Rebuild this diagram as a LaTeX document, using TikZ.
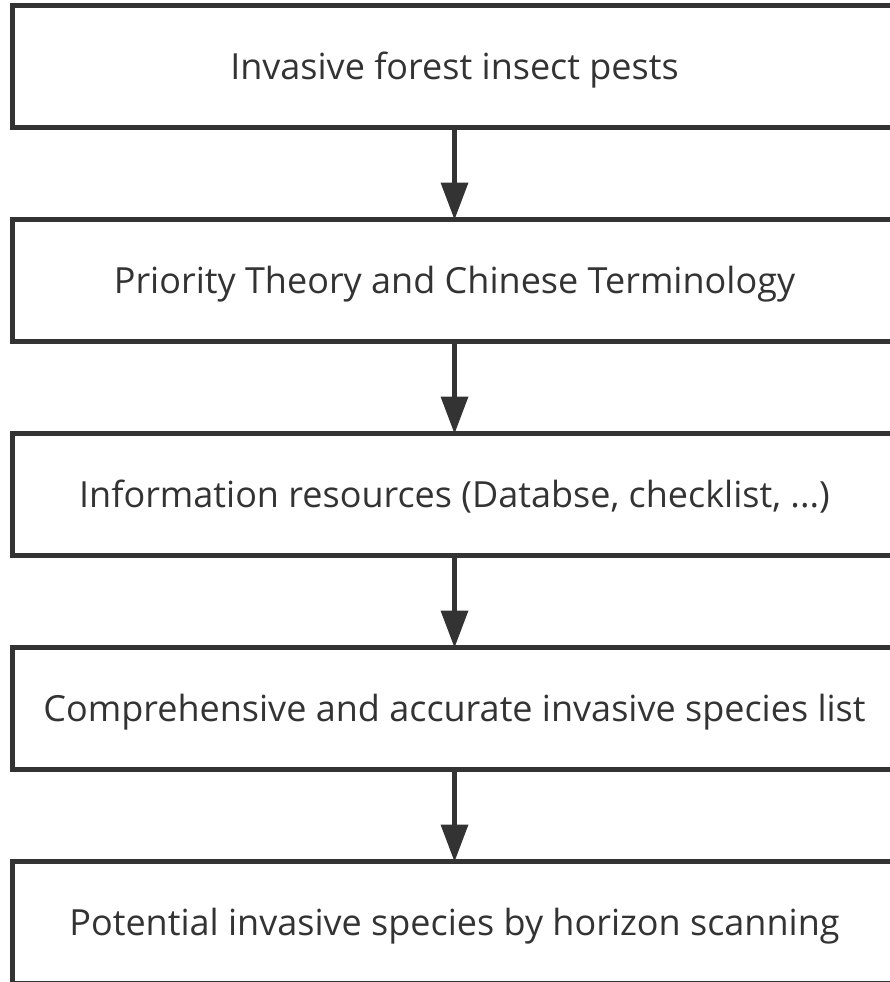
\documentclass[tikz,border=0pt]{standalone}
\usepackage{fontspec}
\setmainfont{Open Sans}
\usetikzlibrary{arrows.meta}
\definecolor{ink}{HTML}{333333}
\begin{document}
\begin{tikzpicture}[x=1pt,y=-1pt,
  flowbox/.style={draw=ink, line width=5pt, minimum width=884pt, minimum height=122pt,
    inner sep=0pt, outer sep=0pt, text=ink, text height=26pt, text depth=0pt,
    font=\fontsize{36}{42}\selectfont},
  flowarrow/.style={draw=ink, line width=5pt,
    -{Triangle[length=37pt,width=28pt,line width=0pt]}}]
\useasboundingbox (0,0) rectangle (889,982);
\node[flowbox] (b1) at (454.5,66.5) {Invasive forest insect pests};
\node[flowbox] (b2) at (454.5,280.5) {Priority Theory and Chinese Terminology};
\node[flowbox] (b3) at (454.5,494.5) {Information resources (Databse, checklist, ...)};
\node[flowbox] (b4) at (454.5,708.5) {Comprehensive and accurate invasive species list};
\node[flowbox] (b5) at (454.5,922.5) {Potential invasive species by horizon scanning};
\draw[flowarrow] (b1.south) -- (b2.north);
\draw[flowarrow] (b2.south) -- (b3.north);
\draw[flowarrow] (b3.south) -- (b4.north);
\draw[flowarrow] (b4.south) -- (b5.north);
\end{tikzpicture}
\end{document}
